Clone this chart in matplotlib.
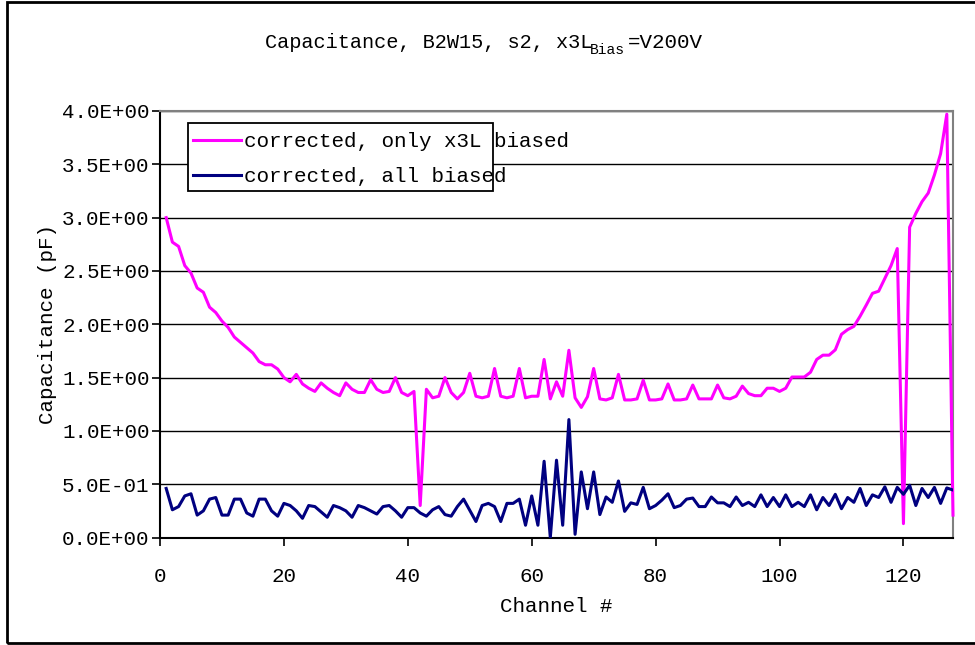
import numpy as np
import matplotlib
matplotlib.use("Agg")
import matplotlib.pyplot as plt
from matplotlib.patches import Rectangle

# channel numbers 1..128
channels = np.arange(1, 129)

# corrected, only x3L biased (pF)
only_x3l = [3.00, 2.77, 2.73, 2.55, 2.48, 2.34, 2.30, 2.16, 2.11, 2.03,
            1.97, 1.88, 1.83, 1.78, 1.73, 1.65, 1.62, 1.62, 1.58, 1.50,
            1.46, 1.53, 1.44, 1.40, 1.37, 1.45, 1.40, 1.36, 1.33, 1.45,
            1.39, 1.36, 1.36, 1.48, 1.39, 1.36, 1.37, 1.50, 1.36, 1.33,
            1.37, 0.30, 1.39, 1.31, 1.325, 1.50, 1.36, 1.30, 1.36, 1.54,
            1.325, 1.31, 1.325, 1.585, 1.325, 1.31, 1.325, 1.585, 1.31, 1.325,
            1.325, 1.67, 1.30, 1.46, 1.325, 1.756, 1.31, 1.22, 1.32, 1.585,
            1.30, 1.29, 1.31, 1.53, 1.29, 1.29, 1.30, 1.475, 1.29, 1.29,
            1.30, 1.44, 1.29, 1.29, 1.30, 1.43, 1.30, 1.30, 1.30, 1.43,
            1.31, 1.30, 1.325, 1.42, 1.35, 1.33, 1.33, 1.40, 1.40, 1.37,
            1.40, 1.505, 1.505, 1.505, 1.55, 1.67, 1.71, 1.71, 1.76, 1.906,
            1.95, 1.98, 2.075, 2.18, 2.29, 2.31, 2.43, 2.55, 2.71, 0.13,
            2.91, 3.04, 3.15, 3.23, 3.40, 3.60, 3.97, 0.21]

# corrected, all biased (pF)
all_biased = [0.46, 0.26, 0.29, 0.39, 0.41, 0.21, 0.25, 0.36, 0.375, 0.21,
              0.21, 0.36, 0.36, 0.23, 0.20, 0.36, 0.36, 0.25, 0.20, 0.32,
              0.30, 0.25, 0.18, 0.30, 0.29, 0.24, 0.19, 0.30, 0.28, 0.25,
              0.19, 0.30, 0.28, 0.25, 0.22, 0.29, 0.30, 0.25, 0.19, 0.28,
              0.28, 0.23, 0.20, 0.26, 0.29, 0.215, 0.20, 0.29, 0.36, 0.255,
              0.15, 0.30, 0.32, 0.29, 0.15, 0.32, 0.32, 0.36, 0.115, 0.39,
              0.115, 0.715, 0.0, 0.725, 0.115, 1.106, 0.03, 0.615, 0.27, 0.615,
              0.215, 0.38, 0.33, 0.53, 0.245, 0.325, 0.31, 0.47, 0.27, 0.30,
              0.35, 0.41, 0.28, 0.30, 0.36, 0.37, 0.29, 0.29, 0.38, 0.325,
              0.325, 0.29, 0.38, 0.30, 0.33, 0.29, 0.40, 0.29, 0.375, 0.29,
              0.40, 0.29, 0.33, 0.29, 0.40, 0.26, 0.375, 0.30, 0.405, 0.27,
              0.375, 0.33, 0.46, 0.30, 0.40, 0.375, 0.475, 0.33, 0.47, 0.405,
              0.49, 0.30, 0.46, 0.375, 0.47, 0.32, 0.465, 0.445]

y_ticks = np.arange(0, 4.01, 0.5)
y_labels = ["0.0E+00", "5.0E-01", "1.0E+00", "1.5E+00", "2.0E+00",
            "2.5E+00", "3.0E+00", "3.5E+00", "4.0E+00"]

W, H = 975, 645
mono = "Liberation Mono"
fs = 15

# plot area in pixels
L, R, T, B = 160, 953, 111, 537.5

def px(x, y):
    # pixel position -> figure fraction
    return x / W, 1 - y / H

def apx(x, y):
    # pixel position -> axes fraction
    return (x - L) / (R - L), (B - y) / (B - T)

fig = plt.figure(figsize=(W / 100, H / 100), dpi=100)
ax = fig.add_axes([L / W, 1 - B / H, (R - L) / W, (B - T) / H])

# outer chart border
fig.patches.append(Rectangle((7 / W, 2 / H), 1, 1 - 3.5 / H, transform=fig.transFigure,
                             fill=False, edgecolor="black", linewidth=2))

ax.plot(channels, only_x3l, color="#FF00FF", linewidth=2.2, label="corrected, only x3L biased",
        clip_on=False, zorder=3)
ax.plot(channels, all_biased, color="#000080", linewidth=2.2, label="corrected, all biased",
        zorder=3)

ax.set_xlim(0, 128)
ax.set_ylim(0, 4.0)
ax.set_xticks(np.arange(0, 121, 20))
ax.set_yticks(y_ticks)
ax.set_yticklabels(y_labels)
ax.grid(axis="y", color="black", linewidth=1.0)
ax.set_axisbelow(True)

for sp in ["top", "right"]:
    ax.spines[sp].set_color("#808080")
    ax.spines[sp].set_linewidth(1.5)
ax.spines["left"].set_linewidth(1.5)
ax.spines["bottom"].set_linewidth(1.5)

ax.tick_params(axis="y", direction="out", length=6, width=1.2, pad=1.5, labelsize=fs)
ax.tick_params(axis="x", direction="out", length=6, width=1.2, pad=15, labelsize=fs)
for lab in ax.get_xticklabels() + ax.get_yticklabels():
    lab.set_family(mono)

# legend: box drawn separately, text spills over like the original
x0, y0 = apx(188, 191)
x1, y1 = apx(493, 123)
ax.add_patch(Rectangle((x0, y0), x1 - x0, y1 - y0, transform=ax.transAxes,
                       facecolor="white", edgecolor="black", linewidth=1.3, zorder=4,
                       clip_on=False))
leg = ax.legend(loc="upper left", bbox_to_anchor=apx(187, 126),
                frameon=False, prop={"family": mono, "size": fs}, handlelength=2.3,
                handletextpad=0.15, labelspacing=0.75, borderaxespad=0, borderpad=0.3)
leg.set_zorder(5)

ax.set_xlabel("Channel #", family=mono, fontsize=fs, labelpad=8)
ax.set_ylabel("Capacitance (pF)", family=mono, fontsize=fs, labelpad=4)

# title with the overlapping subscript as in the original
fig.text(*px(265, 43), "Capacitance, B2W15, s2, x3L", family=mono, fontsize=14.6, va="center", ha="left")
fig.text(*px(590, 50), "Bias", family=mono, fontsize=10.5, va="center", ha="left")
fig.text(*px(628, 43), "=V200V", family=mono, fontsize=fs, va="center", ha="left")

fig.savefig("out.png", dpi=100)
